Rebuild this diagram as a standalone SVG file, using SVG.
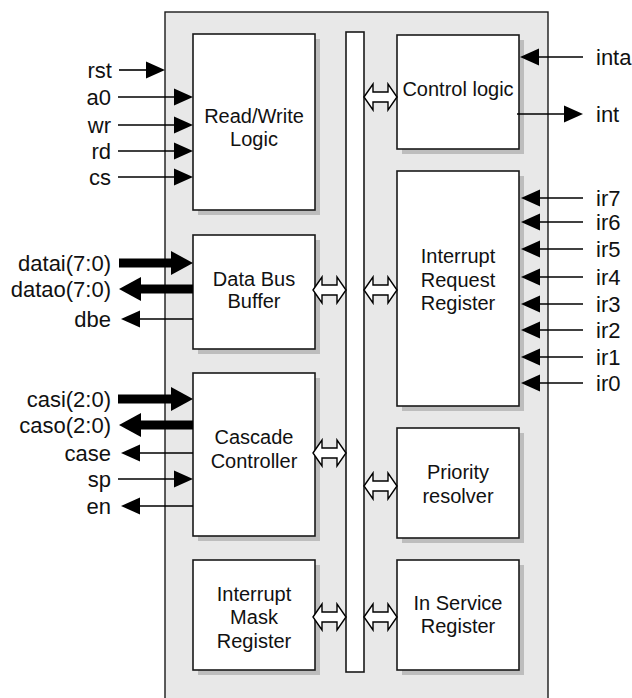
<svg xmlns="http://www.w3.org/2000/svg" width="632" height="698" viewBox="0 0 632 698">
<style>
.blk{fill:#fff;stroke:#1a1a1a;stroke-width:1.6}
.sh{fill:#bdbdbd}
.bt{font-family:"Liberation Sans",Arial,sans-serif;font-size:20px;fill:#111;text-anchor:middle}
.pl{font-family:"Liberation Sans",Arial,sans-serif;font-size:22px;fill:#111;text-anchor:end}
.pr{font-family:"Liberation Sans",Arial,sans-serif;font-size:22px;fill:#111;text-anchor:start}
.w{stroke:#000;stroke-width:1.6;fill:none;marker-end:url(#ah)}
.b{stroke:#000;stroke-width:9;fill:none;marker-end:url(#bh)}
.da{fill:#fff;stroke:#000;stroke-width:1.4;stroke-linejoin:miter}
</style>
<defs>
<marker id="ah" markerUnits="userSpaceOnUse" viewBox="0 -10 20 20" markerWidth="20" markerHeight="20" refX="1" refY="0" orient="auto">
<path d="M0,-8.5 L19,0 L0,8.5 z" fill="#000"/>
</marker>
<marker id="bh" markerUnits="userSpaceOnUse" viewBox="0 -13 23 26" markerWidth="23" markerHeight="26" refX="1" refY="0" orient="auto">
<path d="M0,-12 L22,0 L0,12 z" fill="#000"/>
</marker>
<path id="dbl" d="M0,0 L9,-13 L9,-5 L24,-5 L24,-13 L33,0 L24,13 L24,5 L9,5 L9,13 z"/>
</defs>
<rect x="165" y="12" width="383" height="700" fill="#e8e8e8" stroke="#1a1a1a" stroke-width="1.4"/>
<g id="bus"><rect x="346" y="32" width="18" height="640" class="blk"/></g>
<g id="rwlogic"><rect x="198" y="39" width="122" height="176" class="sh"/><rect x="193" y="34" width="122" height="176" class="blk"/><text class="bt" x="254" y="123">Read/Write</text><text class="bt" x="254" y="146">Logic</text></g>
<g id="databus"><rect x="198" y="240" width="122" height="114" class="sh"/><rect x="193" y="235" width="122" height="114" class="blk"/><text class="bt" x="254" y="286">Data Bus</text><text class="bt" x="254" y="308">Buffer</text></g>
<g id="cascade"><rect x="198" y="378" width="122" height="163" class="sh"/><rect x="193" y="373" width="122" height="163" class="blk"/><text class="bt" x="254" y="444">Cascade</text><text class="bt" x="254" y="468">Controller</text></g>
<g id="imr"><rect x="198" y="565" width="122" height="110" class="sh"/><rect x="193" y="560" width="122" height="110" class="blk"/><text class="bt" x="254" y="601">Interrupt</text><text class="bt" x="254" y="624">Mask</text><text class="bt" x="254" y="648">Register</text></g>
<g id="control"><rect x="402" y="40" width="122" height="114" class="sh"/><rect x="397" y="35" width="122" height="114" class="blk"/><text class="bt" x="458" y="96">Control logic</text></g>
<g id="irr"><rect x="402" y="176" width="122" height="235" class="sh"/><rect x="397" y="171" width="122" height="235" class="blk"/><text class="bt" x="458" y="263">Interrupt</text><text class="bt" x="458" y="287">Request</text><text class="bt" x="458" y="310">Register</text></g>
<g id="priority"><rect x="402" y="433" width="122" height="110" class="sh"/><rect x="397" y="428" width="122" height="110" class="blk"/><text class="bt" x="458" y="479">Priority</text><text class="bt" x="458" y="503">resolver</text></g>
<g id="isr"><rect x="402" y="565" width="122" height="110" class="sh"/><rect x="397" y="560" width="122" height="110" class="blk"/><text class="bt" x="458" y="610">In Service</text><text class="bt" x="458" y="633">Register</text></g>
<g id="connectors">
<line class="w" x1="119" y1="70" x2="147" y2="70"/>
<line class="w" x1="118" y1="97" x2="175" y2="97"/>
<line class="w" x1="118" y1="125" x2="175" y2="125"/>
<line class="w" x1="118" y1="151" x2="175" y2="151"/>
<line class="w" x1="118" y1="177" x2="175" y2="177"/>
<line class="b" x1="119" y1="263" x2="172" y2="263"/>
<line class="b" x1="193" y1="289" x2="140" y2="289"/>
<line class="w" x1="193" y1="319" x2="139" y2="319"/>
<line class="b" x1="118" y1="399" x2="172" y2="399"/>
<line class="b" x1="193" y1="425" x2="140" y2="425"/>
<line class="w" x1="193" y1="453" x2="139" y2="453"/>
<line class="w" x1="118" y1="479" x2="175" y2="479"/>
<line class="w" x1="193" y1="506" x2="139" y2="506"/>
<line class="w" x1="583" y1="57" x2="538" y2="57"/>
<line class="w" x1="517" y1="114" x2="565" y2="114"/>
<line class="w" x1="583" y1="198" x2="539" y2="198"/>
<line class="w" x1="583" y1="222" x2="539" y2="222"/>
<line class="w" x1="583" y1="249" x2="539" y2="249"/>
<line class="w" x1="583" y1="277" x2="539" y2="277"/>
<line class="w" x1="583" y1="304" x2="539" y2="304"/>
<line class="w" x1="583" y1="330" x2="539" y2="330"/>
<line class="w" x1="583" y1="357" x2="539" y2="357"/>
<line class="w" x1="583" y1="383" x2="539" y2="383"/>
<use href="#dbl" class="da" x="364" y="97"/>
<use href="#dbl" class="da" x="313" y="290"/>
<use href="#dbl" class="da" x="364" y="290"/>
<use href="#dbl" class="da" x="313" y="453"/>
<use href="#dbl" class="da" x="364" y="486"/>
<use href="#dbl" class="da" x="313" y="617"/>
<use href="#dbl" class="da" x="364" y="617"/>
</g>
<g id="labels">
<text class="pl" x="112" y="78">rst</text>
<text class="pl" x="111" y="105">a0</text>
<text class="pl" x="111" y="133">wr</text>
<text class="pl" x="111" y="159">rd</text>
<text class="pl" x="111" y="185">cs</text>
<text class="pl" x="111" y="271">datai(7:0)</text>
<text class="pl" x="111" y="297">datao(7:0)</text>
<text class="pl" x="111" y="327">dbe</text>
<text class="pl" x="111" y="407">casi(2:0)</text>
<text class="pl" x="111" y="433">caso(2:0)</text>
<text class="pl" x="111" y="461">case</text>
<text class="pl" x="111" y="487">sp</text>
<text class="pl" x="111" y="514">en</text>
<text class="pr" x="596" y="65">inta</text>
<text class="pr" x="596" y="122">int</text>
<text class="pr" x="596" y="206">ir7</text>
<text class="pr" x="596" y="230">ir6</text>
<text class="pr" x="596" y="257">ir5</text>
<text class="pr" x="596" y="285">ir4</text>
<text class="pr" x="596" y="312">ir3</text>
<text class="pr" x="596" y="338">ir2</text>
<text class="pr" x="596" y="365">ir1</text>
<text class="pr" x="596" y="391">ir0</text>
</g>
</svg>
